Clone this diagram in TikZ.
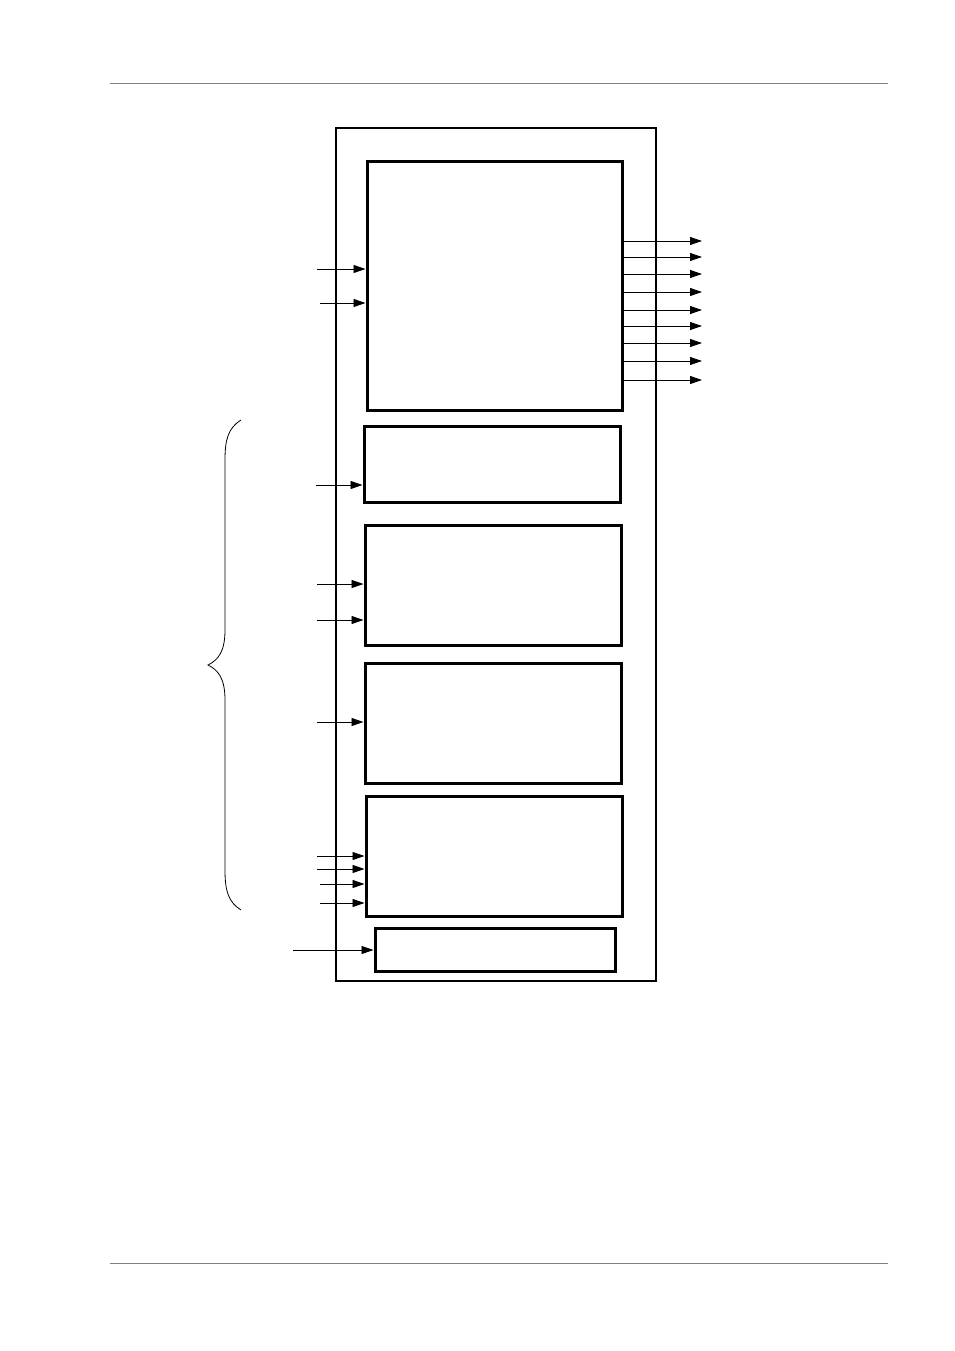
\documentclass[tikz,border=0pt]{standalone}
\usetikzlibrary{arrows.meta}
\tikzset{
  blk/.style={draw,line width=3pt,inner sep=0pt,minimum width=256pt},
  sig/.style={line width=0.9pt,-{Triangle[length=12pt,width=8pt]}},
  rule/.style={gray,line width=0.8pt}
}
\begin{document}
\begin{tikzpicture}[x=1pt,y=-1pt]
 \useasboundingbox (0,0) rectangle (954,1351);
 \draw[rule] (110,83) -- (888,83);
 \draw[rule] (110,1263) -- (888,1263);
 \node[draw,line width=2.5pt,inner sep=0pt,minimum width=320pt,minimum height=853pt] (chip) at (496,554.5) {};
 \node[blk,minimum width=255pt,minimum height=248pt] (blkA) at (494.5,286) {};
 \node[blk,minimum height=76pt] (blkB) at (492,464) {};
 \node[blk,minimum height=120pt] (blkC) at (493,585) {};
 \node[blk,minimum height=120pt] (blkD) at (493,723) {};
 \node[blk,minimum height=120pt] (blkE) at (494,856) {};
 \node[blk,minimum width=240pt,minimum height=43pt] (blkF) at (495,949.5) {};
 \foreach \y/\x/\b in {269/317/blkA,303/320/blkA,485/316/blkB,584/317/blkC,620/317/blkC,722/317/blkD,856/317/blkE,869/317/blkE,884/320/blkE,903/320/blkE,950/293/blkF}{
  \coordinate (in) at (\x,\y);
  \draw[sig] (in) -- (in -| \b.west);
 }
 \foreach \y in {241,257,274,292,310,326,343,361,380}{
  \coordinate (out) at (702,\y);
  \draw[sig] (out -| blkA.east) -- (out);
 }
 \draw[line width=0.8pt] (241,420) .. controls (228,428) and (225,440) .. (225,460) -- (225,630) .. controls (225,652) and (218,660) .. (208,665) .. controls (218,670) and (225,678) .. (225,700) -- (225,870) .. controls (225,890) and (228,902) .. (241,910);
\end{tikzpicture}
\end{document}
